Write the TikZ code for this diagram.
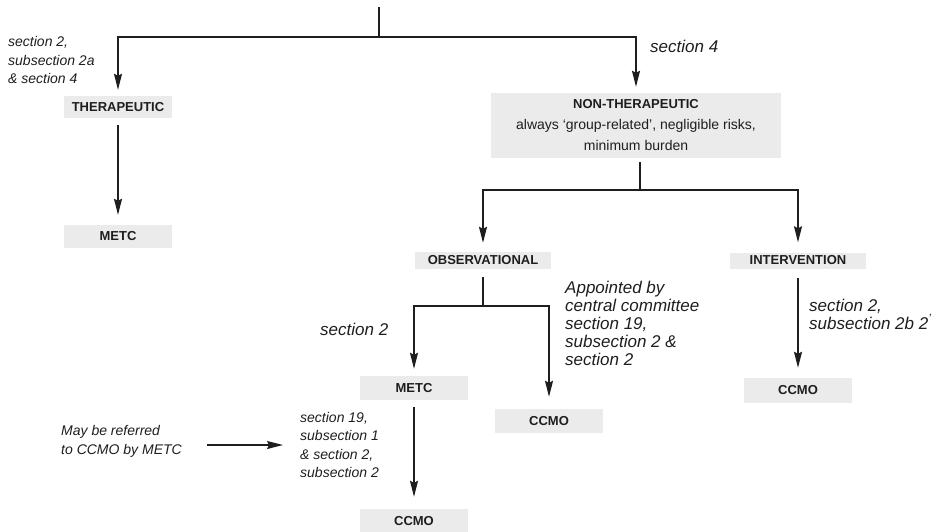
\documentclass[tikz,border=0pt]{standalone}
\usepackage{fontspec}
\setmainfont{Liberation Sans}
\usetikzlibrary{arrows.meta}
\definecolor{boxgray}{HTML}{EBEBEB}
\definecolor{ink}{HTML}{1E1E1E}
\begin{document}
\begin{tikzpicture}[x=1pt,y=-1pt,
  box/.style={fill=boxgray, inner sep=0pt, text=ink, minimum width=108pt, minimum height=23pt,
    font=\bfseries\fontsize{13}{15}\selectfont},
  small/.style={font=\itshape\fontsize{14}{18.5}\selectfont, align=left, anchor=west, inner sep=0pt, text=ink},
  big/.style={font=\itshape\fontsize{17}{18}\selectfont, align=left, anchor=west, inner sep=0pt, text=ink},
  conn/.style={line width=1.5pt, draw=ink},
  arr/.style={conn, -{Stealth[length=16pt,width=8pt,inset=2pt]}}]
\useasboundingbox (0,0) rectangle (941,531);

% boxes
\node[box, minimum height=22pt] (ther) at (118,107) {THERAPEUTIC};
\node[box] (metc1) at (118,236.5) {METC};
\node[box, minimum width=290pt, minimum height=65pt, align=center,
      font=\fontsize{14}{21}\selectfont] (nt) at (636,125.5)
  {{\bfseries\fontsize{13}{21}\selectfont NON-THERAPEUTIC}\\
   always ‘group-related’, negligible risks,\\ minimum burden};
\node[box, minimum width=136pt, minimum height=17pt] (obs) at (483,260.5) {OBSERVATIONAL};
\node[box, minimum width=136pt, minimum height=16pt] (int) at (798,260.5) {INTERVENTION};
\node[box, minimum height=24pt] (metc2) at (414,388) {METC};
\node[box, minimum height=24pt] (ccmo1) at (549,421) {CCMO};
\node[box, minimum height=25pt] (ccmo2) at (798,390.5) {CCMO};
\node[box, minimum height=24pt] (ccmo3) at (414,521) {CCMO};

% labels
\node[small] (l1) at (8,60) {section 2,\\subsection 2a\\\& section 4};
\node[big] (l2) at (650,46) {section 4};
\node[big] (l3) at (320,329) {section 2};
\node[big] (l4) at (565,323) {Appointed by\\central committee\\section 19,\\subsection 2 \&\\section 2};
\node[big] (l5) at (809,314) {section 2,\\subsection 2b 2\textsuperscript{’}};
\node[small] (l6) at (300,445) {section 19,\\subsection 1\\\& section 2,\\subsection 2};
\node[small] (l7) at (61,441.5) {May be referred\\to CCMO by METC};

% junctions
\coordinate (top) at (379,7);
\coordinate (j1) at (379,37);
\coordinate (j2) at (640,190);
\coordinate (j3) at (483,306);
\coordinate (ra) at (207,445);
\coordinate (rb) at (283,445);

% connectors
\draw[conn] (top) -- (j1);
\draw[arr, shorten >=6pt] (j1) -| (ther.north);
\draw[arr, shorten >=6pt] (j1) -| (nt.north);
\draw[arr, shorten <=7pt, shorten >=10pt] (ther.south) -- (metc1.north);
\draw[conn, shorten <=4pt] (nt.south -| j2) -- (j2);
\draw[arr, shorten >=9pt] (j2) -| (obs.north);
\draw[arr, shorten >=10pt] (j2) -| (int.north);
\draw[conn, shorten <=8pt] (obs.south) -- (j3);
\draw[arr, shorten >=7pt] (j3) -| (metc2.north);
\draw[arr, shorten >=12pt] (j3) -| (ccmo1.north);
\draw[arr, shorten <=9pt, shorten >=10pt] (int.south) -- (ccmo2.north);
\draw[arr, shorten <=7pt, shorten >=12pt] (metc2.south) -- (ccmo3.north);
\draw[arr] (ra) -- (rb);
\end{tikzpicture}
\end{document}
